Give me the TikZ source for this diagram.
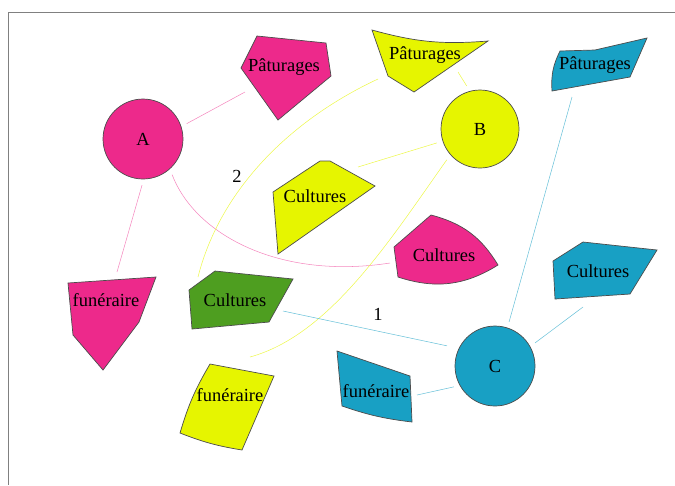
\documentclass[tikz,border=0pt]{standalone}
\usepackage{fontspec}
\setmainfont{Liberation Serif}

\definecolor{rose}{RGB}{237,41,139}
\definecolor{jaune}{RGB}{230,245,0}
\definecolor{bleu}{RGB}{24,160,196}
\definecolor{vert}{RGB}{78,158,32}

\begin{document}
\begin{tikzpicture}[x=0.02cm,y=-0.02cm,
font=\fontsize{10.5}{12}\selectfont,
zone/.style={draw=black!70,line width=0.4pt,circle,minimum size=1.6cm,inner sep=0pt},
parcel/.style={draw=black!70,line width=0.4pt},
lbl/.style={inner sep=1pt},
link/.style={line width=0.3pt,shorten <=1.2mm}]
\useasboundingbox (0,0) rectangle (675,485);
\draw[gray,line width=0.5pt] (675,12) -- (8,12) -- (8,485);

% zones
\node[zone,fill=rose] (A) at (143,139) {A};
\node[zone,fill=jaune,minimum size=1.56cm] (B) at (480,129) {B};
\node[zone,fill=bleu] (C) at (495,366) {C};

% parcelles de A
\filldraw[parcel,fill=rose] (257,36) -- (326,43) -- (331,76) -- (278,120) -- (241,68) -- cycle;
\node[lbl] (patA) at (284,67) {Pâturages};
\coordinate (patA-in) at (245,92);
\filldraw[parcel,fill=rose] (431,215) -- (394,247) -- (398,277) to[bend right=25] (498,265) to[bend right=22] (431,215) -- cycle;
\node[lbl] (culA) at (444,255) {Cultures};
\coordinate (culA-in) at (390,263);
\filldraw[parcel,fill=rose] (68,283) -- (156,277) -- (139,322) -- (103,370) -- (73,335) -- cycle;
\node[lbl] (funA) at (106,300) {funéraire};
\coordinate (funA-in) at (117,272);

% parcelles de B
\filldraw[parcel,fill=jaune] (372,30) to[bend right=10] (488,41) -- (414,92) -- (388,76) -- cycle;
\node[lbl] (patB) at (425,55) {Pâturages};
\coordinate (patB-in) at (458,72);
\coordinate (patB-out) at (378,79);
\filldraw[parcel,fill=jaune] (273,192) -- (320,161) -- (330,161) -- (375,186) -- (278,254) -- cycle;
\node[lbl] (culB) at (315,196) {Cultures};
\coordinate (culB-in) at (358,167);
\filldraw[parcel,fill=jaune] (210,364) -- (274,376) -- (242,450) to[bend left=6] (180,433) to[bend left=7] (210,364) -- cycle;
\node[lbl] (funB) at (230,395) {funéraire};
\coordinate (funB-in) at (250,357);

% parcelles de C
\filldraw[parcel,fill=bleu] (560,51) -- (595,50) -- (647,38) -- (630,77) -- (552,91) to[bend left=15] (560,51) -- cycle;
\node[lbl] (patC) at (595,65) {Pâturages};
\coordinate (patC-in) at (572,97);
\filldraw[parcel,fill=bleu] (553,261) -- (583,242) -- (657,250) -- (630,294) -- (555,299) -- cycle;
\node[lbl] (culC) at (598,271) {Cultures};
\coordinate (culC-in) at (583,307);
\filldraw[parcel,fill=bleu] (337,351) -- (410,376) -- (412,422) to[bend left=6] (342,406) -- cycle;
\node[lbl] (funC) at (376,391) {funéraire};
\coordinate (funC-in) at (417,395);

% parcelle commune
\filldraw[parcel,fill=vert] (189,290) -- (215,271) -- (293,279) -- (269,322) -- (192,329) -- cycle;
\node[lbl] (culG) at (235,300) {Cultures};
\coordinate (culG-B) at (198,277);
\coordinate (culG-C) at (283,311);

% liens
\draw[link,draw=rose!55] (A.18) -- (patA-in);
\draw[link,draw=rose!55] (A.-89) -- (funA-in);
\draw[link,draw=rose!55] (A.-48) .. controls (195,235) and (280,280) .. (culA-in);
\draw[link,draw=jaune!70] (B.105) -- (patB-in);
\draw[link,draw=jaune!70] (B.198) -- (culB-in);
\draw[link,draw=jaune!70] (B.221) .. controls (390,240) and (330,335) .. (funB-in);
\draw[line width=0.3pt,draw=jaune!70] (patB-out) .. controls (290,120) and (220,190) .. (culG-B);
\draw[link,draw=bleu!65,shorten <=2.4mm] (C.154) -- (culG-C);
\draw[link,draw=bleu!65] (C.72) -- (patC-in);
\draw[link,draw=bleu!65] (C.29) -- (culC-in);
\draw[link,draw=bleu!65] (C.209) -- (funC-in);

\node (n2) at (237,176) {2};
\node (n1) at (378,314) {1};
\end{tikzpicture}
\end{document}
